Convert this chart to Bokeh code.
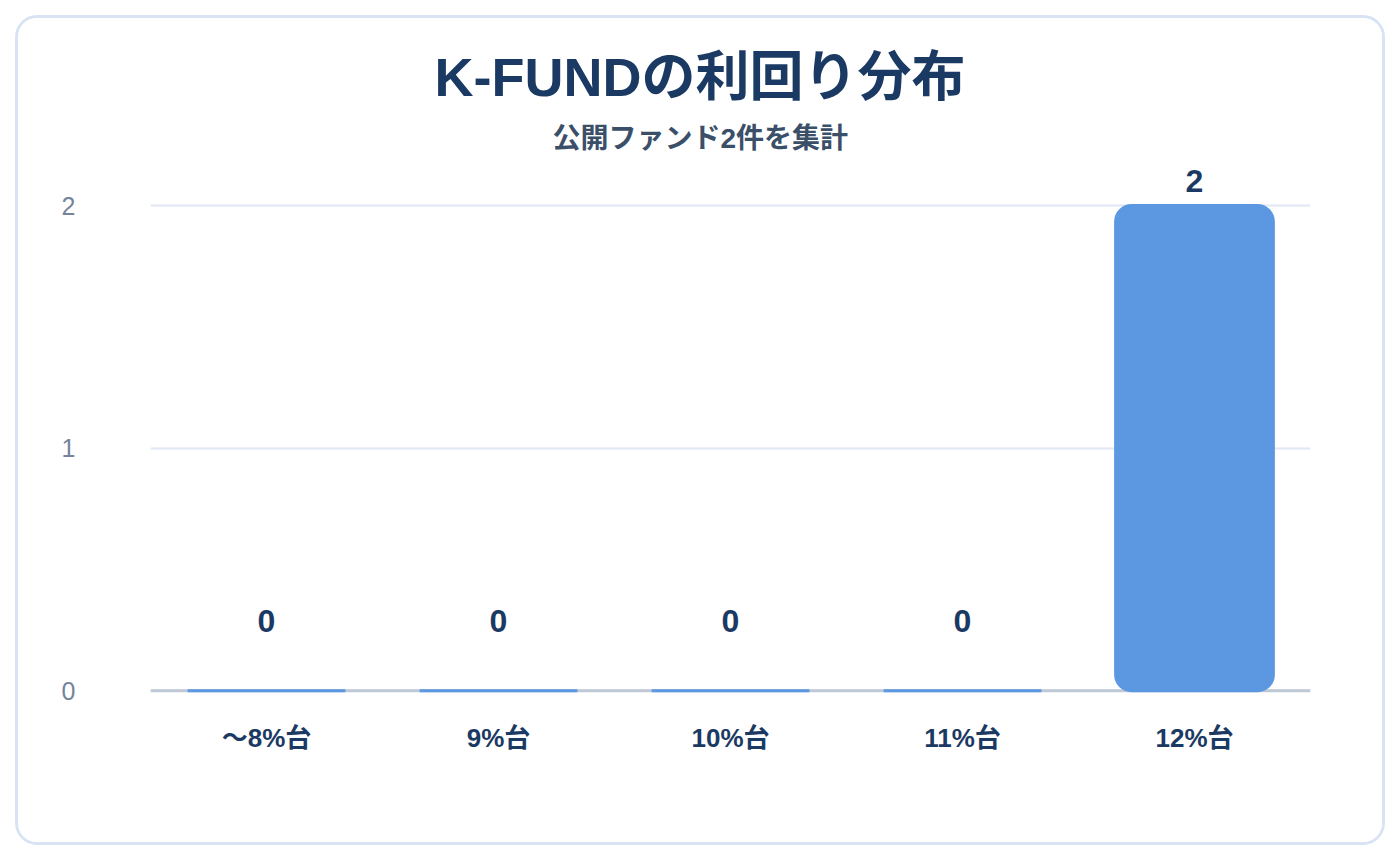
from bokeh.plotting import figure
from bokeh.models import ColumnDataSource, FixedTicker, Title, Span, FactorRange, Range1d
from bokeh.core.properties import value
from bokeh.embed import file_html
from bokeh.resources import INLINE

categories = ["〜8%台", "9%台", "10%台", "11%台", "12%台"]
counts = [0, 0, 0, 0, 2]
y_ticks = [0, 1, 2]
title_text = "K-FUNDの利回り分布"
subtitle_text = "公開ファンド2件を集計"

NAVY = "#1b3a63"
BAR = "#5b98e1"
FONT = "Liberation Sans, Noto Sans CJK JP"

src = ColumnDataSource(dict(
    cat=categories,
    count=counts,
    label=[str(c) for c in counts],
    yoff=[-70 if c == 0 else -25 for c in counts],
))

p = figure(
    width=1370, height=830,
    x_range=FactorRange(*categories, range_padding=0),
    y_range=Range1d(-0.02, 2.186),
    output_backend="svg", toolbar_location=None, tools="",
    min_border_left=132, min_border_right=78,
    min_border_top=142, min_border_bottom=153,
)
p.margin = (15, 0, 0, 15)
p.styles = {"border": "3px solid #d8e4f4", "border-radius": "22px", "box-sizing": "border-box",
            "overflow": "hidden", "background": "#ffffff"}
p.outline_line_color = None
p.background_fill_color = "#ffffff"
p.border_fill_color = "#ffffff"

# titles (first added sits nearest the plot); left-aligned with offsets so they centre on the card
sub = Title(text=subtitle_text, align="left", text_font=FONT, text_font_size="28px",
            text_font_style="bold", text_color="#3b4f69", standoff=14, offset=402)
p.add_layout(sub, "above")
main = Title(text=title_text, align="left", text_font=FONT, text_font_size="54px",
             text_font_style="bold", text_color=NAVY, standoff=13, offset=284)
p.add_layout(main, "above")

# zero baseline
base = Span(location=0, dimension="width", line_color="#bfc9d6", line_width=3, level="underlay")
p.add_layout(base)

p.vbar(x="cat", top="count", bottom=0, width=0.68, source=src,
       fill_color=BAR, line_color=BAR, line_width=3, border_radius=16)

p.text(x="cat", y="count", text="label", y_offset="yoff", source=src,
       text_align="center", text_baseline="middle", text_font=value(FONT),
       text_font_size="32px", text_font_style="bold", text_color=NAVY)

# axes
p.yaxis.ticker = FixedTicker(ticks=y_ticks)
p.yaxis.axis_line_color = None
p.yaxis.major_tick_line_color = None
p.yaxis.minor_tick_line_color = None
p.yaxis.major_label_standoff = 69
p.yaxis.major_label_text_font = "Liberation Sans"
p.yaxis.major_label_text_font_size = "25px"
p.yaxis.major_label_text_color = "#75849a"

p.xaxis.axis_line_color = None
p.xaxis.major_tick_line_color = None
p.xaxis.minor_tick_line_color = None
p.xaxis.major_label_standoff = 21
p.xaxis.major_label_text_font = FONT
p.xaxis.major_label_text_font_size = "26px"
p.xaxis.major_label_text_font_style = "bold"
p.xaxis.major_label_text_color = NAVY

p.xgrid.grid_line_color = None
p.ygrid.grid_line_color = "#dfe8f4"
p.ygrid.grid_line_width = 2

open("out.html", "w").write(file_html(p, INLINE))
